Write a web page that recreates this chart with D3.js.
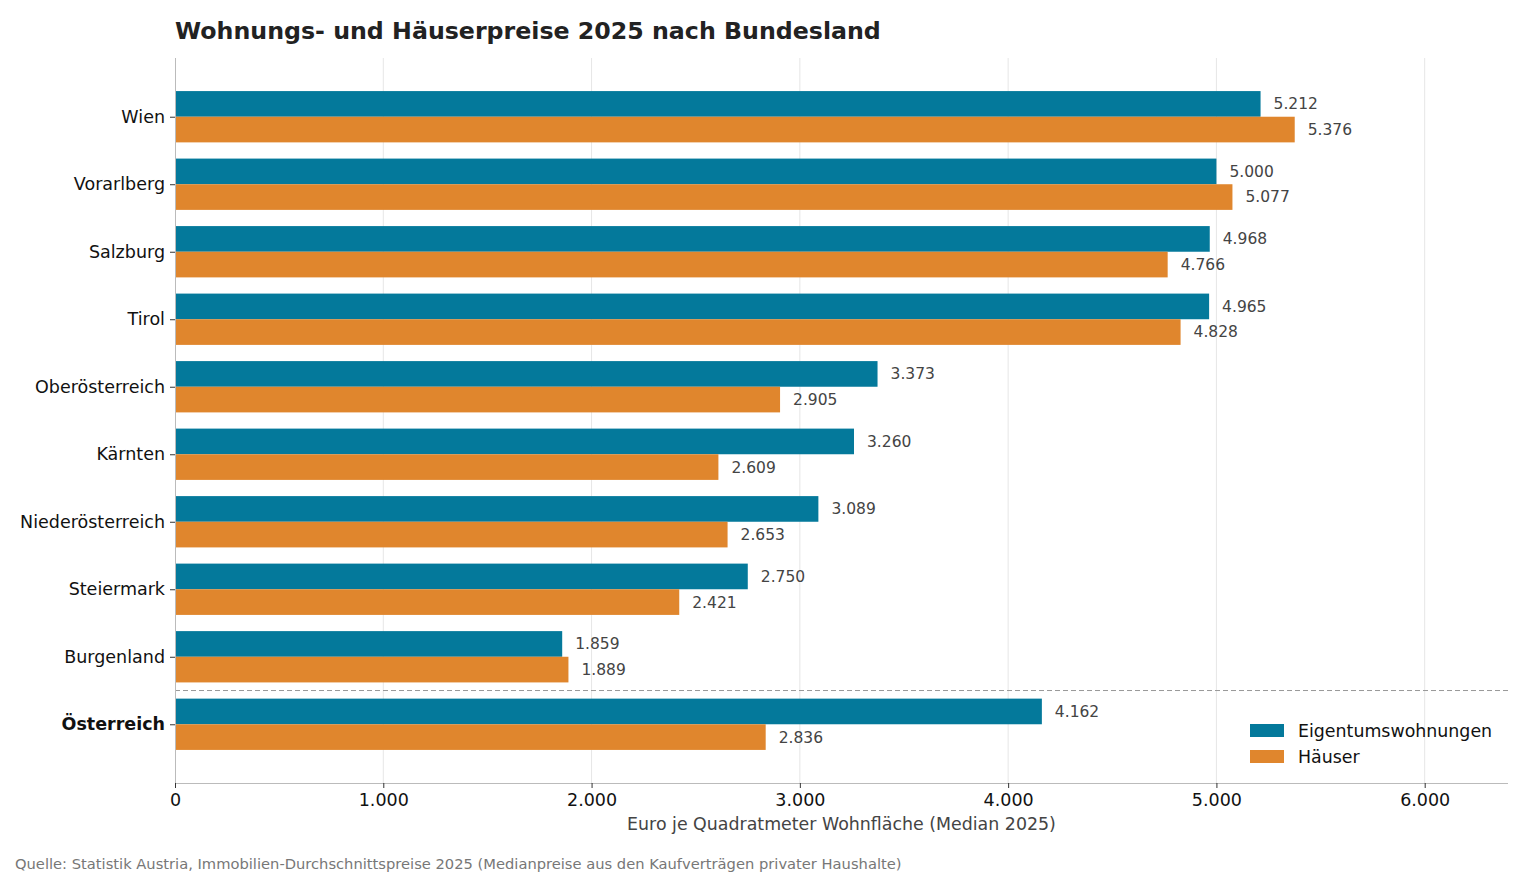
<!DOCTYPE html>
<html><head><meta charset="utf-8">
<script src="https://cdn.jsdelivr.net/npm/d3@7"></script>
<style>
body{margin:0;background:#fff;}
svg{font-family:"DejaVu Sans",sans-serif;}
</style></head>
<body>
<svg id="chart" width="1528" height="880"></svg>
<script>
const categories = ["Wien","Vorarlberg","Salzburg","Tirol","Oberösterreich","Kärnten","Niederösterreich","Steiermark","Burgenland","Österreich"];
const wohnungen = [5212,5000,4968,4965,3373,3260,3089,2750,1859,4162];
const haeuser = [5376,5077,4766,4828,2905,2609,2653,2421,1889,2836];
const seriesNames = ["Eigentumswohnungen","Häuser"];
const xTicks = [0,1000,2000,3000,4000,5000,6000];
const colors = ["#04799b","#e0862d"];

(function(){
const svg = d3.select("#chart");
const pLeft = 175, pRight = 1508, pTop = 58, pBottom = 783;
const x = d3.scaleLinear().domain([0,6400]).range([pLeft,pRight]);
const y = d3.scaleLinear().domain([-0.87,9.87]).range([pTop,pBottom]);
const barH = y(0.38)-y(0);
const fmt = v => d3.format(",")(v).replace(/,/g,".");

// grid
svg.append("g").selectAll("line").data(xTicks.slice(1)).join("line")
  .attr("x1",d=>x(d)).attr("x2",d=>x(d)).attr("y1",pTop).attr("y2",pBottom)
  .attr("stroke","#e6e6e6").attr("stroke-width",1);

const series = [wohnungen, haeuser];
series.forEach((vals,si)=>{
  const g = svg.append("g");
  g.selectAll("rect").data(vals).join("rect")
    .attr("x",x(0))
    .attr("y",(d,i)=> si===0 ? y(i)-barH : y(i))
    .attr("width",d=>x(d)-x(0))
    .attr("height",barH)
    .attr("fill",colors[si]);
  g.selectAll("text").data(vals).join("text")
    .attr("x",d=>x(d)+13)
    .attr("y",(d,i)=> si===0 ? y(i)-barH/2 : y(i)+barH/2)
    .attr("dy","0.35em")
    .attr("font-size",15.5)
    .attr("fill","#444")
    .text(d=>fmt(d));
});

// separator
svg.append("line").attr("x1",pLeft).attr("x2",pRight).attr("y1",y(8.5)).attr("y2",y(8.5))
  .attr("stroke","#999").attr("stroke-dasharray","5,3").attr("stroke-width",1);

// x axis
const xAxis = d3.axisBottom(x).tickValues(xTicks).tickFormat(fmt).tickSize(5).tickPadding(6);
const gx = svg.append("g").attr("transform",`translate(0,${pBottom})`).call(xAxis);
gx.select(".domain").attr("stroke","#bbb").attr("d",`M${pLeft},0.5H${pRight}`);
gx.selectAll(".tick line").attr("stroke","#333");
gx.selectAll(".tick text").attr("font-size",17.5).attr("fill","#111").attr("font-family","DejaVu Sans");

// y axis
const yAxis = d3.axisLeft(y).tickValues(d3.range(categories.length)).tickFormat(i=>categories[i]).tickSize(5).tickPadding(5);
const gy = svg.append("g").attr("transform",`translate(${pLeft},0)`).call(yAxis);
gy.select(".domain").attr("stroke","#bbb").attr("d",`M0.5,${pTop}V${pBottom}`);
gy.selectAll(".tick line").attr("stroke","#333");
gy.selectAll(".tick text").attr("font-size",17.5).attr("fill","#111").attr("font-family","DejaVu Sans")
  .attr("font-weight",i=>i===categories.length-1?"bold":"normal");

// x label
svg.append("text").attr("x",(pLeft+pRight)/2).attr("y",830).attr("text-anchor","middle")
  .attr("font-size",17.4).attr("fill","#444").text("Euro je Quadratmeter Wohnfläche (Median 2025)");

// title
svg.append("text").attr("x",pLeft).attr("y",39).attr("font-size",23.7).attr("font-weight","bold")
  .attr("fill","#222").text("Wohnungs- und Häuserpreise 2025 nach Bundesland");

// source
svg.append("text").attr("x",15).attr("y",869).attr("font-size",14.7).attr("fill","#777")
  .text("Quelle: Statistik Austria, Immobilien-Durchschnittspreise 2025 (Medianpreise aus den Kaufverträgen privater Haushalte)");

// legend
const lg = svg.append("g");
seriesNames.forEach((n,i)=>{
  lg.append("rect").attr("x",1250).attr("y",724+i*26).attr("width",34).attr("height",13).attr("fill",colors[i]);
  lg.append("text").attr("x",1298).attr("y",731+i*26).attr("dy","0.35em").attr("font-size",17.4).attr("fill","#111").text(n);
});
})();
</script>
</body></html>
